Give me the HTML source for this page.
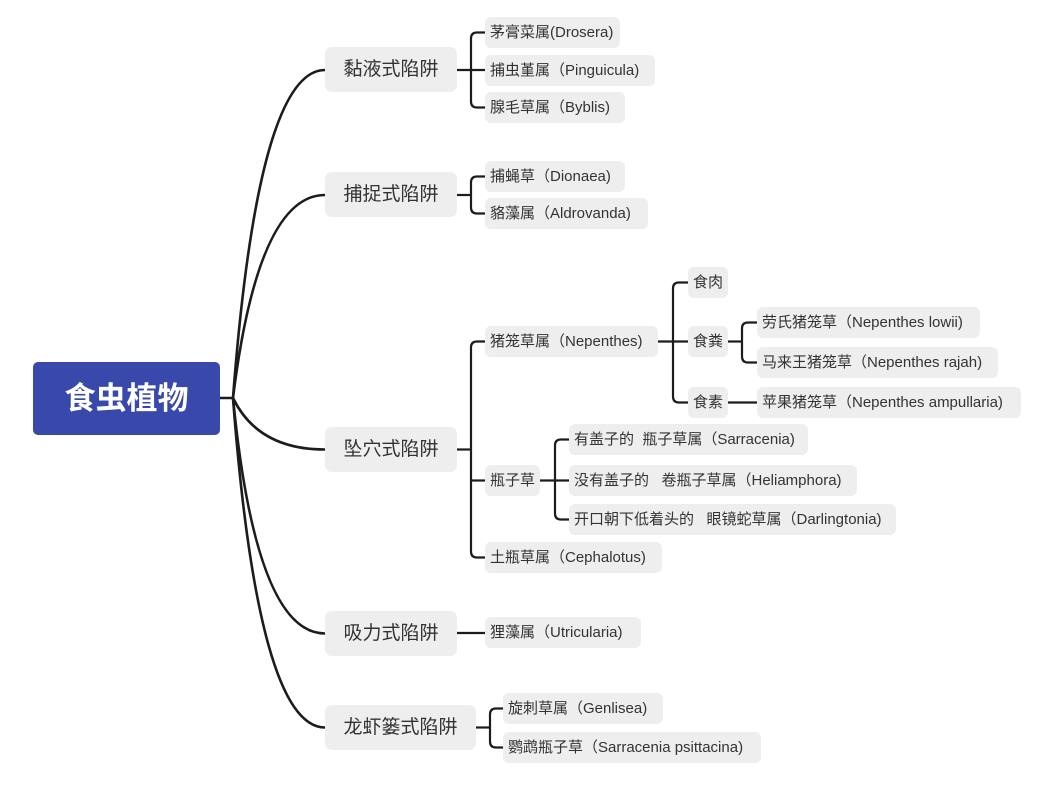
<!DOCTYPE html>
<html>
<head>
<meta charset="utf-8">
<style>
  html, body { margin:0; padding:0; background:#ffffff; }
  body { width:1055px; height:795px; position:relative; overflow:hidden;
         font-family:"Liberation Sans","Noto Sans CJK SC",sans-serif; }
  svg { position:absolute; left:0; top:0; }
  .b { position:absolute; background:#eeeeee; border-radius:6px; color:#333333;
       font-size:15px; height:31px; line-height:31px; padding-left:5px; box-sizing:border-box;
       white-space:nowrap; }
  .l1 { position:absolute; background:#eeeeee; border-radius:7px; color:#333333;
        font-size:19px; height:45px; line-height:45px; text-align:center; box-sizing:border-box;
        white-space:nowrap; }
  .root { position:absolute; left:33px; top:362px; width:187px; height:73px; background:#3949ab;
          border-radius:5px; color:#ffffff; font-size:31px; font-weight:bold; text-align:center;
          line-height:73px; }
</style>
</head>
<body>
<svg width="1055" height="795" viewBox="0 0 1055 795">
  <g fill="none" stroke="#1c1c1c" stroke-width="2.6" stroke-linecap="round">
    <path d="M220,398 H233"/>
    <path d="M233,398 Q258,70 325,70"/>
    <path d="M233,398 Q258,195 325,195"/>
    <path d="M233,398 Q258,449.5 325,449.5"/>
    <path d="M233,398 Q256,633.5 325,633.5"/>
    <path d="M233,398 Q258,727.5 325,727.5"/>
  </g>
  <g fill="none" stroke="#1c1c1c" stroke-width="2.2">
    <!-- 黏液 -->
    <path d="M457,70 H485"/>
    <path d="M485,32.5 H477 Q471,32.5 471,38.5 V101.5 Q471,107.5 477,107.5 H485"/>
    <!-- 捕捉 -->
    <path d="M457,195 H471"/>
    <path d="M485,176.5 H477 Q471,176.5 471,182.5 V207.5 Q471,213.5 477,213.5 H485"/>
    <!-- 坠穴 -->
    <path d="M457,449.5 H471"/>
    <path d="M485,341.5 H477 Q471,341.5 471,347.5 V551.5 Q471,557.5 477,557.5 H485"/>
    <path d="M471,480.5 H485"/>
    <!-- Nepenthes -->
    <path d="M658,341.5 H688"/>
    <path d="M688,282.5 H679 Q673,282.5 673,288.5 V396.5 Q673,402.5 679,402.5 H688"/>
    <!-- 食粪 -->
    <path d="M728,341.5 H742"/>
    <path d="M757,322.5 H748 Q742,322.5 742,328.5 V356.5 Q742,362.5 748,362.5 H757"/>
    <!-- 食素 -->
    <path d="M728,402.5 H757"/>
    <!-- 瓶子草 -->
    <path d="M540,480.5 H569"/>
    <path d="M569,439.5 H561 Q555,439.5 555,445.5 V513.5 Q555,519.5 561,519.5 H569"/>
    <!-- 吸力 -->
    <path d="M457,633 H485"/>
    <!-- 龙虾篓 -->
    <path d="M476,727.5 H490"/>
    <path d="M503,708.5 H496 Q490,708.5 490,714.5 V741.5 Q490,747.5 496,747.5 H503"/>
  </g>
</svg>

<div class="root">食虫植物</div>

<div class="l1" style="left:325px;top:47px;width:132px;">黏液式陷阱</div>
<div class="l1" style="left:325px;top:172px;width:132px;">捕捉式陷阱</div>
<div class="l1" style="left:325px;top:427px;width:132px;">坠穴式陷阱</div>
<div class="l1" style="left:325px;top:611px;width:132px;">吸力式陷阱</div>
<div class="l1" style="left:325px;top:705px;width:151px;">龙虾篓式陷阱</div>

<div class="b" style="left:485px;top:17px;width:135px;">茅膏菜属(Drosera)</div>
<div class="b" style="left:485px;top:55px;width:170px;">捕虫堇属（Pinguicula)</div>
<div class="b" style="left:485px;top:92px;width:140px;">腺毛草属（Byblis)</div>

<div class="b" style="left:485px;top:161px;width:140px;">捕蝇草（Dionaea)</div>
<div class="b" style="left:485px;top:198px;width:163px;">貉藻属（Aldrovanda)</div>

<div class="b" style="left:485px;top:326px;width:173px;">猪笼草属（Nepenthes)</div>
<div class="b" style="left:485px;top:465px;width:55px;">瓶子草</div>
<div class="b" style="left:485px;top:542px;width:177px;">土瓶草属（Cephalotus)</div>

<div class="b" style="left:688px;top:267px;width:40px;">食肉</div>
<div class="b" style="left:688px;top:326px;width:40px;">食粪</div>
<div class="b" style="left:688px;top:387px;width:40px;">食素</div>

<div class="b" style="left:757px;top:307px;width:223px;">劳氏猪笼草（Nepenthes lowii)</div>
<div class="b" style="left:757px;top:347px;width:241px;">马来王猪笼草（Nepenthes rajah)</div>
<div class="b" style="left:757px;top:387px;width:264px;">苹果猪笼草（Nepenthes ampullaria)</div>

<div class="b" style="left:569px;top:424px;width:239px;">有盖子的&nbsp;&nbsp;瓶子草属（Sarracenia)</div>
<div class="b" style="left:569px;top:465px;width:288px;">没有盖子的&nbsp;&nbsp;&nbsp;卷瓶子草属（Heliamphora)</div>
<div class="b" style="left:569px;top:504px;width:327px;">开口朝下低着头的&nbsp;&nbsp;&nbsp;眼镜蛇草属（Darlingtonia)</div>

<div class="b" style="left:485px;top:617px;width:156px;">狸藻属（Utricularia)</div>

<div class="b" style="left:503px;top:693px;width:160px;">旋刺草属（Genlisea)</div>
<div class="b" style="left:503px;top:732px;width:258px;">鹦鹉瓶子草（Sarracenia psittacina)</div>
</body>
</html>
